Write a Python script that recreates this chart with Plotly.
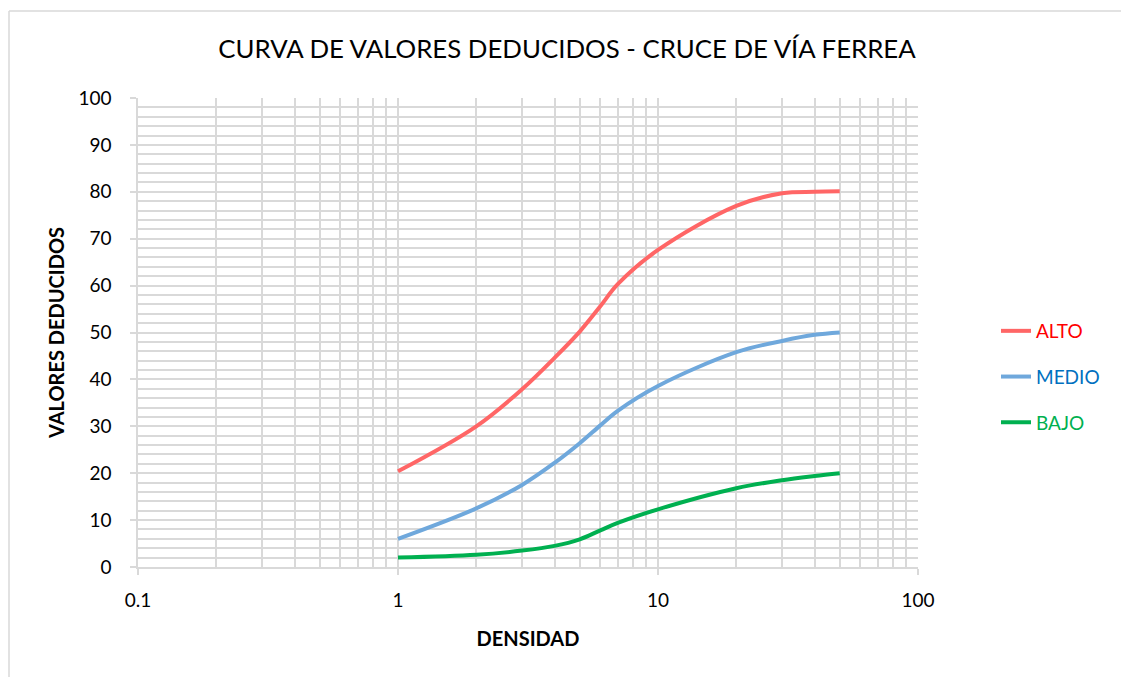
import plotly.graph_objects as go

densidad = [1, 2, 3, 4, 5, 6, 7, 10, 20, 30, 40, 50]
alto = [20.4, 30.0, 37.9, 44.6, 50.2, 55.6, 60.3, 67.6, 77.0, 79.7, 80.0, 80.1]
medio = [6.0, 12.5, 17.5, 22.2, 26.4, 30.2, 33.3, 38.6, 45.8, 48.2, 49.5, 50.0]
bajo = [2.0, 2.6, 3.5, 4.5, 5.9, 7.8, 9.4, 12.3, 16.8, 18.5, 19.4, 20.0]

series = [
    ("ALTO", alto, "#FF6666", "#FF0000"),
    ("MEDIO", medio, "#6FA8DC", "#0070C0"),
    ("BAJO", bajo, "#00B050", "#00B050"),
]

FONT = "Lato, 'Open Sans', sans-serif"

fig = go.Figure()
for name, vals, col, tcol in series:
    fig.add_trace(go.Scatter(
        x=densidad, y=vals,
        name=f"<span style='color:{tcol}'>{name}</span>",
        mode="lines",
        line=dict(color=col, width=4, shape="spline", smoothing=1.0),
        legendgroup=name,
    ))

# page is offset by 8px body margin; figure sized accordingly
W, H = 1121, 669
L, T = 130, 90
plot_right, plot_bottom = 910, 559
R = W - plot_right
B = H - plot_bottom
pw = plot_right - L
ph = plot_bottom - T

def px(xs):
    return (xs - 138) / pw

def py(ys):
    return (567 - ys) / ph

fig.update_layout(
    width=W, height=H,
    margin=dict(l=L, r=R, t=T, b=B),
    paper_bgcolor="white", plot_bgcolor="white",
    font=dict(family=FONT, size=19, color="#000000"),
    title=dict(text="CURVA DE VALORES DEDUCIDOS - CRUCE DE VÍA FERREA",
               x=(567 - 8) / W, xref="container", xanchor="center",
               y=1 - 41 / H, yref="container", yanchor="middle",
               font=dict(size=25.8, color="#000000", family=FONT)),
    showlegend=True,
    legend=dict(x=(996 - 8 - L) / pw, xanchor="left", y=(559 - 304) / ph, yanchor="top",
                tracegroupgap=18, font=dict(size=19, family=FONT),
                bgcolor="rgba(0,0,0,0)"),
    shapes=[
        dict(type="line", xref="paper", yref="paper",
             x0=px(9), x1=px(1135), y0=py(11), y1=py(11),
             line=dict(color="#D9D9D9", width=1.5), layer="below"),
        dict(type="line", xref="paper", yref="paper",
             x0=px(9), x1=px(9), y0=py(11), y1=py(680),
             line=dict(color="#D9D9D9", width=1.5), layer="below"),
    ],
)

fig.update_xaxes(
    type="log", range=[-1, 2],
    tickvals=[0.1, 1, 10, 100], ticktext=["0.1", "1", "10", "100"],
    showgrid=True, gridcolor="#D9D9D9", gridwidth=1.5,
    minor=dict(tickvals=[m * 10 ** e for e in (-1, 0, 1) for m in range(2, 10)],
               showgrid=True, gridcolor="#D9D9D9", gridwidth=1.5, ticks=""),
    showline=True, linecolor="#D9D9D9", linewidth=1.5,
    ticks="outside", ticklen=6, tickcolor="#D9D9D9", tickwidth=1.5,
    ticklabelstandoff=9,
    tickfont=dict(size=19), zeroline=False,
    title=dict(text="<b>DENSIDAD</b>", font=dict(size=20), standoff=22),
)
fig.update_yaxes(
    range=[0, 100], dtick=10,
    showgrid=True, gridcolor="#D9D9D9", gridwidth=1.5,
    minor=dict(dtick=2, showgrid=True, gridcolor="#D9D9D9", gridwidth=1.5, ticks=""),
    showline=True, linecolor="#D9D9D9", linewidth=1.5,
    ticks="outside", ticklen=6, tickcolor="#D9D9D9", tickwidth=1.5,
    ticklabelstandoff=15,
    tickfont=dict(size=19), zeroline=False,
    title=dict(text="<b>VALORES DEDUCIDOS</b>", font=dict(size=20), standoff=8),
)

fig.write_html("out.html")
